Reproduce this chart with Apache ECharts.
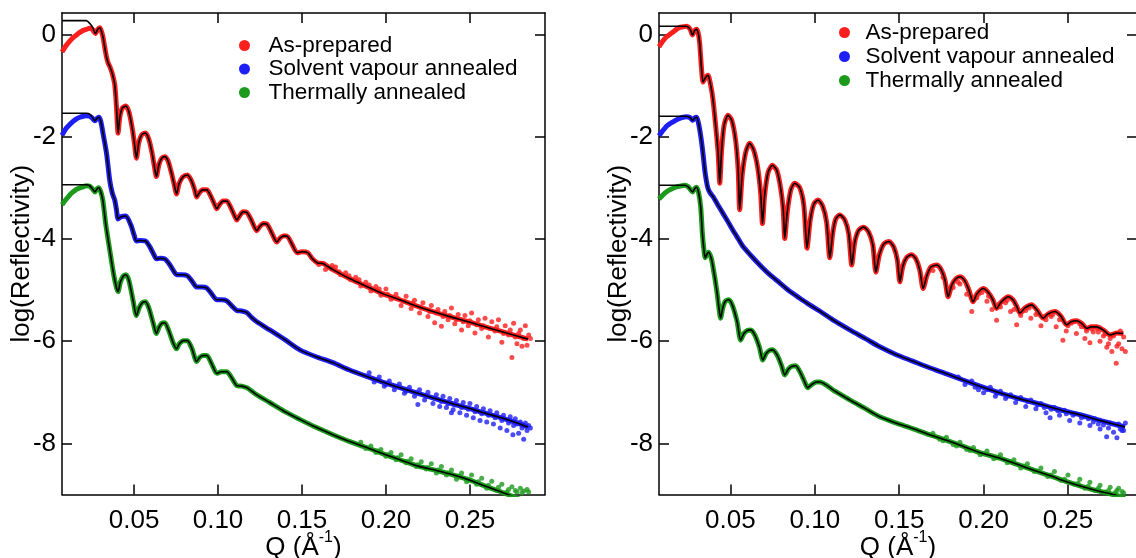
<!DOCTYPE html>
<html><head><meta charset="utf-8">
<script src="https://cdn.jsdelivr.net/npm/echarts@6/dist/echarts.min.js"></script>
<style>html,body{margin:0;padding:0;background:#fff}#c{width:1136px;height:558px}</style>
</head><body><div id="c"></div>
<script>
const seriesNames = ['As-prepared', 'Solvent vapour annealed', 'Thermally annealed'];
const xTicks = [0.05, 0.10, 0.15, 0.20, 0.25];
const yTicks = [0, -2, -4, -6, -8];
const yTitle = 'log(Reflectivity)';

// ---------- LEFT PANEL ----------
const L_red_fit = [[0.0071,0.27],[0.0215,0.27],[0.0238,0.21],[0.0255,0.13],[0.0270,0.02],[0.0284,0.10],[0.0296,0.13],[0.0306,0.06],[0.0315,-0.05],[0.0326,-0.26],[0.0336,-0.44],[0.0346,-0.56],[0.0356,-0.63],[0.0370,-0.76],[0.0385,-0.98],[0.0395,-1.40],[0.0405,-1.93],[0.0415,-1.62],[0.0430,-1.44],[0.0451,-1.40],[0.0470,-1.52],[0.0490,-1.85],[0.0503,-2.15],[0.0514,-2.42],[0.0528,-2.12],[0.0546,-1.96],[0.0568,-1.93],[0.0588,-2.05],[0.0606,-2.30],[0.0620,-2.56],[0.0633,-2.78],[0.0648,-2.55],[0.0665,-2.42],[0.0683,-2.39],[0.0702,-2.47],[0.0722,-2.70],[0.0740,-2.95],[0.0753,-3.12],[0.0768,-2.92],[0.0790,-2.79],[0.0818,-2.75],[0.0840,-2.85],[0.0860,-3.03],[0.0873,-3.18],[0.0888,-3.10],[0.0908,-3.04],[0.0933,-3.04],[0.0955,-3.15],[0.0980,-3.33],[0.0993,-3.41],[0.1008,-3.33],[0.1030,-3.26],[0.1052,-3.26],[0.1075,-3.38],[0.1100,-3.56],[0.1112,-3.63],[0.1128,-3.55],[0.1150,-3.47],[0.1171,-3.48],[0.1195,-3.61],[0.1220,-3.79],[0.1231,-3.84],[0.1248,-3.76],[0.1270,-3.70],[0.1291,-3.71],[0.1315,-3.85],[0.1340,-4.02],[0.1350,-4.06],[0.1370,-3.98],[0.1395,-3.94],[0.1416,-3.96],[0.1440,-4.10],[0.1472,-4.27],[0.1500,-4.25],[0.1535,-4.27],[0.1560,-4.38],[0.1593,-4.47],[0.1625,-4.48],[0.1654,-4.54],[0.1684,-4.60],[0.1780,-4.77],[0.1885,-4.93],[0.1980,-5.07],[0.2083,-5.19],[0.2180,-5.31],[0.2280,-5.42],[0.2380,-5.52],[0.2480,-5.61],[0.2580,-5.71],[0.2687,-5.81],[0.2780,-5.90],[0.2846,-5.96]];
const L_red_low = [[0.0071,-0.34],[0.0097,-0.21],[0.0117,-0.13],[0.0137,-0.06],[0.0157,-0.01],[0.0177,0.04],[0.0197,0.08],[0.0216,0.10],[0.0236,0.12],[0.0252,0.10],[0.0262,0.05],[0.0270,0.02],[0.0284,0.10],[0.0296,0.13]];
const L_red_noise = [[0.160,-4.50],[0.164,-4.60],[0.168,-4.52],[0.170,-4.55],[0.172,-4.64],[0.173,-4.70],[0.176,-4.66],[0.178,-4.72],[0.179,-4.80],[0.182,-4.75],[0.184,-4.80],[0.185,-4.92],[0.188,-4.85],[0.190,-4.90],[0.191,-5.02],[0.194,-4.93],[0.196,-4.98],[0.197,-5.10],[0.200,-4.98],[0.201,-5.08],[0.203,-5.18],[0.206,-5.08],[0.207,-5.16],[0.209,-5.30],[0.211,-5.22],[0.212,-5.12],[0.215,-5.36],[0.216,-5.25],[0.217,-5.20],[0.220,-5.45],[0.221,-5.35],[0.222,-5.25],[0.225,-5.52],[0.226,-5.42],[0.227,-5.30],[0.229,-5.64],[0.230,-5.45],[0.231,-5.38],[0.233,-5.71],[0.234,-5.52],[0.235,-5.42],[0.237,-5.58],[0.238,-5.50],[0.239,-5.35],[0.241,-5.66],[0.242,-5.58],[0.243,-5.48],[0.245,-5.78],[0.246,-5.62],[0.247,-5.50],[0.249,-5.70],[0.250,-5.60],[0.251,-5.45],[0.253,-5.84],[0.254,-5.68],[0.255,-5.58],[0.257,-5.75],[0.258,-5.70],[0.259,-5.55],[0.261,-5.92],[0.262,-5.75],[0.263,-5.62],[0.265,-5.80],[0.266,-5.72],[0.267,-5.58],[0.269,-6.02],[0.270,-5.85],[0.271,-5.70],[0.273,-5.88],[0.274,-5.78],[0.275,-6.32],[0.276,-5.65],[0.277,-5.92],[0.278,-6.05],[0.279,-5.85],[0.280,-5.78],[0.281,-6.10],[0.282,-5.95],[0.283,-5.70],[0.284,-6.08],[0.285,-5.88],[0.286,-5.95]];

const L_blue_fit = [[0.0071,-1.54],[0.0218,-1.54],[0.0236,-1.56],[0.0252,-1.62],[0.0267,-1.69],[0.0280,-1.64],[0.0290,-1.62],[0.0302,-1.70],[0.0315,-1.93],[0.0336,-2.32],[0.0355,-2.85],[0.0370,-3.10],[0.0385,-3.24],[0.0395,-3.42],[0.0405,-3.61],[0.0420,-3.57],[0.0451,-3.55],[0.0480,-3.72],[0.0500,-3.92],[0.0514,-4.04],[0.0535,-4.03],[0.0568,-4.04],[0.0595,-4.16],[0.0620,-4.32],[0.0633,-4.39],[0.0655,-4.38],[0.0683,-4.39],[0.0712,-4.50],[0.0740,-4.65],[0.0753,-4.70],[0.0785,-4.70],[0.0818,-4.72],[0.0848,-4.84],[0.0873,-4.94],[0.0903,-4.94],[0.0933,-4.96],[0.0963,-5.08],[0.0993,-5.19],[0.1022,-5.19],[0.1052,-5.21],[0.1082,-5.31],[0.1112,-5.40],[0.1141,-5.41],[0.1171,-5.44],[0.1201,-5.54],[0.1231,-5.62],[0.1308,-5.78],[0.1398,-5.97],[0.1487,-6.17],[0.1580,-6.30],[0.1684,-6.42],[0.1780,-6.56],[0.1885,-6.69],[0.1980,-6.80],[0.2083,-6.91],[0.2180,-7.01],[0.2280,-7.11],[0.2380,-7.21],[0.2480,-7.30],[0.2580,-7.40],[0.2687,-7.50],[0.2780,-7.60],[0.2846,-7.68]];
const L_blue_low = [[0.0071,-1.97],[0.0097,-1.83],[0.0117,-1.76],[0.0137,-1.70],[0.0157,-1.65],[0.0177,-1.62],[0.0197,-1.60],[0.0216,-1.59],[0.0236,-1.60],[0.0252,-1.64],[0.0267,-1.69],[0.0280,-1.64],[0.0290,-1.62]];
const L_blue_noise = [[0.190,-6.62],[0.193,-6.80],[0.196,-6.70],[0.199,-6.88],[0.200,-6.85],[0.202,-6.78],[0.205,-6.95],[0.206,-6.88],[0.208,-6.84],[0.211,-7.02],[0.212,-6.98],[0.214,-6.90],[0.217,-7.08],[0.218,-7.00],[0.219,-7.24],[0.220,-6.95],[0.223,-7.15],[0.224,-7.08],[0.225,-7.00],[0.228,-7.22],[0.229,-7.12],[0.230,-7.05],[0.232,-7.28],[0.233,-7.18],[0.234,-7.08],[0.236,-7.30],[0.237,-7.22],[0.238,-7.12],[0.239,-7.40],[0.240,-7.34],[0.241,-7.25],[0.242,-7.16],[0.244,-7.40],[0.245,-7.30],[0.246,-7.20],[0.248,-7.45],[0.249,-7.33],[0.250,-7.22],[0.252,-7.50],[0.253,-7.38],[0.254,-7.28],[0.256,-7.55],[0.257,-7.42],[0.258,-7.32],[0.260,-7.58],[0.261,-7.45],[0.262,-7.36],[0.264,-7.62],[0.265,-7.50],[0.266,-7.40],[0.268,-7.70],[0.269,-7.55],[0.270,-7.45],[0.272,-7.75],[0.273,-7.60],[0.274,-7.48],[0.2756,-7.83],[0.276,-7.65],[0.277,-7.52],[0.278,-7.62],[0.279,-7.80],[0.280,-7.58],[0.281,-7.70],[0.282,-7.92],[0.283,-7.60],[0.284,-7.75],[0.285,-7.65],[0.286,-7.70]];

const L_green_fit = [[0.0071,-2.94],[0.0218,-2.94],[0.0236,-2.96],[0.0252,-3.02],[0.0267,-3.08],[0.0280,-3.02],[0.0290,-3.00],[0.0302,-3.08],[0.0314,-3.24],[0.0332,-3.72],[0.0355,-4.21],[0.0379,-4.70],[0.0395,-4.95],[0.0405,-5.03],[0.0418,-4.85],[0.0435,-4.73],[0.0451,-4.70],[0.0470,-4.82],[0.0495,-5.22],[0.0514,-5.50],[0.0530,-5.35],[0.0548,-5.25],[0.0568,-5.23],[0.0588,-5.35],[0.0615,-5.66],[0.0633,-5.85],[0.0650,-5.72],[0.0665,-5.65],[0.0683,-5.64],[0.0705,-5.78],[0.0735,-6.05],[0.0753,-6.15],[0.0770,-6.05],[0.0795,-5.99],[0.0818,-5.99],[0.0845,-6.15],[0.0873,-6.40],[0.0890,-6.32],[0.0912,-6.28],[0.0933,-6.28],[0.0963,-6.45],[0.0993,-6.63],[0.1020,-6.60],[0.1052,-6.60],[0.1082,-6.72],[0.1112,-6.87],[0.1141,-6.88],[0.1171,-6.91],[0.1231,-7.05],[0.1308,-7.20],[0.1398,-7.38],[0.1487,-7.53],[0.1580,-7.68],[0.1684,-7.83],[0.1780,-7.96],[0.1885,-8.08],[0.1980,-8.20],[0.2083,-8.32],[0.2197,-8.45],[0.2300,-8.53],[0.2394,-8.61],[0.2500,-8.72],[0.2594,-8.84],[0.2726,-9.00],[0.2846,-9.16]];
const L_green_low = [[0.0071,-3.33],[0.0097,-3.22],[0.0117,-3.14],[0.0137,-3.08],[0.0157,-3.03],[0.0177,-3.00],[0.0197,-2.98],[0.0216,-2.96],[0.0236,-2.97],[0.0252,-3.02],[0.0267,-3.08],[0.0280,-3.02],[0.0290,-3.00]];
const L_green_noise = [[0.185,-7.98],[0.188,-8.10],[0.191,-8.05],[0.194,-8.18],[0.195,-8.15],[0.197,-8.12],[0.200,-8.25],[0.201,-8.22],[0.203,-8.18],[0.206,-8.32],[0.207,-8.28],[0.209,-8.22],[0.212,-8.38],[0.213,-8.35],[0.215,-8.30],[0.218,-8.45],[0.219,-8.42],[0.221,-8.36],[0.224,-8.50],[0.225,-8.47],[0.227,-8.40],[0.230,-8.58],[0.231,-8.52],[0.233,-8.45],[0.236,-8.62],[0.237,-8.58],[0.239,-8.52],[0.242,-8.70],[0.243,-8.64],[0.245,-8.58],[0.248,-8.75],[0.249,-8.70],[0.251,-8.62],[0.254,-8.80],[0.255,-8.75],[0.257,-8.68],[0.260,-8.88],[0.261,-8.82],[0.263,-8.74],[0.266,-8.92],[0.267,-8.86],[0.269,-8.80],[0.272,-8.95],[0.273,-8.90],[0.275,-8.85],[0.277,-8.92],[0.278,-8.95],[0.280,-8.88],[0.281,-8.97],[0.282,-8.93],[0.284,-8.90],[0.285,-8.95]];

// ---------- RIGHT PANEL ----------
const R_red_fit = [[0.0077,0.16],[0.0239,0.16],[0.0262,0.10],[0.0275,-0.01],[0.0287,0.07],[0.0298,0.10],[0.0309,0.03],[0.0318,-0.17],[0.0328,-0.63],[0.0338,-0.93],[0.0351,-0.85],[0.0367,-0.80],[0.0383,-0.99],[0.0397,-1.28],[0.0417,-1.93],[0.0428,-2.36],[0.0437,-2.91],[0.0448,-2.26],[0.0463,-1.77],[0.0486,-1.58],[0.0508,-1.68],[0.0531,-2.07],[0.0546,-2.65],[0.0555,-3.43],[0.0570,-2.75],[0.0591,-2.30],[0.0614,-2.13],[0.0638,-2.26],[0.0662,-2.61],[0.0680,-3.14],[0.0690,-3.70],[0.0703,-3.14],[0.0724,-2.69],[0.0749,-2.56],[0.0775,-2.66],[0.0798,-3.01],[0.0813,-3.43],[0.0822,-3.99],[0.0837,-3.47],[0.0858,-3.04],[0.0881,-2.91],[0.0911,-3.00],[0.0935,-3.34],[0.0954,-4.18],[0.0973,-3.63],[0.0994,-3.32],[0.1019,-3.24],[0.1047,-3.36],[0.1070,-3.67],[0.1089,-4.37],[0.1107,-3.87],[0.1124,-3.61],[0.1148,-3.53],[0.1178,-3.63],[0.1201,-3.90],[0.1219,-4.51],[0.1237,-4.06],[0.1260,-3.83],[0.1290,-3.77],[0.1320,-3.87],[0.1344,-4.12],[0.1362,-4.65],[0.1382,-4.32],[0.1409,-4.10],[0.1440,-4.05],[0.1468,-4.16],[0.1489,-4.41],[0.1504,-4.84],[0.1522,-4.53],[0.1545,-4.36],[0.1573,-4.31],[0.1599,-4.39],[0.1622,-4.61],[0.1642,-4.97],[0.1664,-4.72],[0.1688,-4.55],[0.1721,-4.51],[0.1747,-4.59],[0.1771,-4.80],[0.1790,-5.13],[0.1812,-4.90],[0.1836,-4.78],[0.1860,-4.74],[0.1889,-4.82],[0.1913,-5.00],[0.1938,-5.23],[0.1960,-5.08],[0.1998,-4.97],[0.2026,-5.04],[0.2055,-5.19],[0.2077,-5.36],[0.2103,-5.24],[0.2146,-5.13],[0.2174,-5.19],[0.2198,-5.33],[0.2215,-5.45],[0.2245,-5.35],[0.2285,-5.29],[0.2316,-5.39],[0.2354,-5.55],[0.2381,-5.47],[0.2423,-5.42],[0.2458,-5.51],[0.2492,-5.68],[0.2518,-5.62],[0.2552,-5.60],[0.2584,-5.66],[0.2611,-5.75],[0.2637,-5.72],[0.2670,-5.72],[0.2708,-5.78],[0.2749,-5.88],[0.2791,-5.84],[0.2828,-5.85]];
const R_red_low = [[0.0077,-0.24],[0.0100,-0.13],[0.0120,-0.05],[0.0140,0.00],[0.0160,0.05],[0.0180,0.10],[0.0199,0.14],[0.0220,0.15],[0.0239,0.16],[0.0262,0.10],[0.0275,-0.01],[0.0287,0.07],[0.0298,0.10]];
const R_red_noise = [[0.170,-4.62],[0.176,-4.75],[0.182,-4.95],[0.185,-4.85],[0.186,-4.88],[0.190,-5.08],[0.191,-4.98],[0.193,-5.42],[0.196,-5.15],[0.197,-5.08],[0.199,-5.05],[0.202,-5.22],[0.203,-5.12],[0.205,-5.38],[0.2077,-5.59],[0.209,-5.28],[0.210,-5.33],[0.213,-5.25],[0.214,-5.20],[0.216,-5.42],[0.218,-5.38],[0.2196,-5.68],[0.222,-5.50],[0.223,-5.42],[0.225,-5.40],[0.227,-5.35],[0.228,-5.55],[0.231,-5.48],[0.232,-5.44],[0.234,-5.70],[0.236,-5.52],[0.237,-5.58],[0.240,-5.52],[0.241,-5.48],[0.243,-5.72],[0.245,-5.58],[0.247,-5.98],[0.249,-5.80],[0.250,-5.70],[0.252,-5.65],[0.254,-5.62],[0.255,-5.85],[0.257,-5.66],[0.258,-5.72],[0.260,-5.95],[0.261,-5.80],[0.263,-6.03],[0.264,-5.76],[0.265,-5.82],[0.267,-5.75],[0.268,-5.82],[0.269,-6.00],[0.271,-5.90],[0.272,-5.86],[0.273,-6.12],[0.274,-6.05],[0.275,-5.95],[0.276,-6.20],[0.277,-5.90],[0.2786,-6.43],[0.279,-6.10],[0.280,-6.05],[0.281,-5.80],[0.282,-6.15],[0.283,-5.92],[0.284,-6.20]];

const R_blue_fit = [[0.0077,-1.60],[0.0239,-1.60],[0.0262,-1.63],[0.0276,-1.68],[0.0290,-1.63],[0.0300,-1.62],[0.0312,-1.75],[0.0328,-2.07],[0.0340,-2.40],[0.0348,-2.65],[0.0358,-2.87],[0.0367,-3.01],[0.0380,-3.10],[0.0397,-3.17],[0.0425,-3.33],[0.0456,-3.50],[0.0485,-3.66],[0.0515,-3.83],[0.0545,-3.99],[0.0575,-4.15],[0.0620,-4.32],[0.0674,-4.51],[0.0730,-4.69],[0.0792,-4.86],[0.0850,-5.02],[0.0911,-5.16],[0.0970,-5.29],[0.1029,-5.41],[0.1120,-5.61],[0.1207,-5.78],[0.1300,-5.95],[0.1385,-6.11],[0.1480,-6.26],[0.1580,-6.39],[0.1680,-6.52],[0.1781,-6.64],[0.1878,-6.76],[0.1978,-6.88],[0.2076,-6.99],[0.2174,-7.09],[0.2274,-7.18],[0.2374,-7.27],[0.2471,-7.36],[0.2571,-7.44],[0.2700,-7.56],[0.2838,-7.68]];
const R_blue_low = [[0.0077,-1.98],[0.0100,-1.88],[0.0120,-1.80],[0.0140,-1.75],[0.0160,-1.71],[0.0180,-1.67],[0.0199,-1.64],[0.0220,-1.62],[0.0239,-1.61],[0.0262,-1.63],[0.0276,-1.68],[0.0290,-1.63],[0.0300,-1.62]];
const R_blue_noise = [[0.185,-6.70],[0.189,-6.85],[0.193,-6.78],[0.195,-6.90],[0.197,-6.95],[0.200,-7.01],[0.202,-6.95],[0.204,-6.90],[0.207,-7.08],[0.208,-7.02],[0.210,-6.98],[0.213,-7.12],[0.214,-7.08],[0.216,-7.05],[0.219,-7.20],[0.220,-7.12],[0.222,-7.10],[0.225,-7.28],[0.226,-7.18],[0.228,-7.15],[0.231,-7.32],[0.232,-7.25],[0.234,-7.22],[0.236,-7.30],[0.237,-7.40],[0.2394,-7.50],[0.240,-7.33],[0.242,-7.30],[0.244,-7.36],[0.245,-7.45],[0.248,-7.35],[0.249,-7.42],[0.251,-7.55],[0.253,-7.45],[0.254,-7.42],[0.257,-7.60],[0.258,-7.50],[0.260,-7.48],[0.262,-7.52],[0.263,-7.65],[0.265,-7.58],[0.266,-7.52],[0.268,-7.62],[0.269,-7.72],[0.271,-7.64],[0.2729,-7.87],[0.274,-7.70],[0.275,-7.60],[0.277,-7.78],[0.279,-7.89],[0.280,-7.62],[0.281,-7.72],[0.282,-7.75],[0.283,-7.75],[0.284,-7.60]];

const R_green_fit = [[0.0077,-2.95],[0.0229,-2.95],[0.0250,-2.98],[0.0276,-3.08],[0.0290,-3.01],[0.0300,-2.99],[0.0312,-3.10],[0.0324,-3.37],[0.0334,-3.89],[0.0342,-4.18],[0.0351,-4.37],[0.0361,-4.30],[0.0371,-4.26],[0.0385,-4.36],[0.0395,-4.51],[0.0419,-5.00],[0.0432,-5.35],[0.0442,-5.55],[0.0455,-5.35],[0.0470,-5.22],[0.0490,-5.19],[0.0512,-5.30],[0.0540,-5.62],[0.0561,-5.98],[0.0580,-5.85],[0.0600,-5.79],[0.0620,-5.78],[0.0645,-5.88],[0.0672,-6.12],[0.0692,-6.37],[0.0712,-6.24],[0.0732,-6.18],[0.0751,-6.17],[0.0778,-6.28],[0.0803,-6.48],[0.0822,-6.66],[0.0845,-6.54],[0.0865,-6.49],[0.0887,-6.48],[0.0912,-6.60],[0.0938,-6.78],[0.0958,-6.91],[0.0985,-6.84],[0.1010,-6.80],[0.1029,-6.80],[0.1120,-6.98],[0.1207,-7.15],[0.1300,-7.32],[0.1385,-7.48],[0.1480,-7.60],[0.1580,-7.71],[0.1680,-7.83],[0.1781,-7.94],[0.1880,-8.06],[0.1978,-8.18],[0.2097,-8.29],[0.2200,-8.41],[0.2293,-8.52],[0.2400,-8.64],[0.2492,-8.75],[0.2600,-8.86],[0.2690,-8.94],[0.2767,-9.00],[0.2838,-9.07]];
const R_green_low = [[0.0077,-3.22],[0.0100,-3.14],[0.0120,-3.08],[0.0140,-3.04],[0.0160,-3.01],[0.0180,-2.98],[0.0199,-2.97],[0.0229,-2.95],[0.0250,-2.98],[0.0276,-3.08],[0.0290,-3.01],[0.0300,-2.99]];
const R_green_noise = [[0.170,-7.80],[0.174,-7.92],[0.176,-7.95],[0.178,-7.88],[0.182,-8.02],[0.184,-8.05],[0.186,-7.98],[0.190,-8.12],[0.192,-8.14],[0.194,-8.08],[0.198,-8.22],[0.200,-8.20],[0.202,-8.15],[0.206,-8.30],[0.208,-8.28],[0.210,-8.22],[0.214,-8.38],[0.216,-8.36],[0.218,-8.32],[0.222,-8.48],[0.224,-8.44],[0.226,-8.40],[0.230,-8.55],[0.232,-8.54],[0.234,-8.48],[0.238,-8.65],[0.240,-8.62],[0.242,-8.55],[0.246,-8.72],[0.248,-8.70],[0.250,-8.62],[0.254,-8.80],[0.256,-8.78],[0.257,-8.70],[0.260,-8.88],[0.262,-8.84],[0.263,-8.76],[0.266,-8.92],[0.268,-8.88],[0.269,-8.82],[0.272,-8.95],[0.274,-8.92],[0.275,-8.86],[0.278,-8.96],[0.279,-8.92],[0.280,-8.88],[0.282,-8.94],[0.283,-8.97]];

// ---------- styling ----------
const COLORS = ['#fb1e1e', '#1e1ef6', '#1b9a1b'];
const FONT = 'Liberation Sans, Arial, Helvetica, sans-serif';
const panels = [
  {grid: {left: 62, top: 13, width: 483, height: 481.5, outerBoundsMode: 'none', containLabel: false}, xmin: 0.0071, xmax: 0.2947,
   fits: [L_red_fit, L_blue_fit, L_green_fit], lows: [L_red_low, L_blue_low, L_green_low], noise: [L_red_noise, L_blue_noise, L_green_noise]},
  {grid: {left: 659, top: 13, width: 478, height: 481.5, outerBoundsMode: 'none', containLabel: false}, xmin: 0.0077, xmax: 0.2909,
   fits: [R_red_fit, R_blue_fit, R_green_fit], lows: [R_red_low, R_blue_low, R_green_low], noise: [R_red_noise, R_blue_noise, R_green_noise]}
];
const YMIN = -9, YMAX = 0.42;

const grids = [], xAxes = [], yAxes = [], series = [];
const axisLine = {show: true, onZero: false, lineStyle: {color: '#000', width: 1.5}};
panels.forEach((p, gi) => {
  grids.push(p.grid);
  xAxes.push({type: 'value', gridIndex: gi, position: 'bottom', min: p.xmin, max: p.xmax,
    axisLine, splitLine: {show: false},
    axisTick: {show: true, inside: true, length: 10, lineStyle: {color: '#000', width: 1.5}, customValues: xTicks},
    axisLabel: {show: true, customValues: xTicks, formatter: v => v.toFixed(2), fontSize: 26, color: '#000', fontFamily: FONT, margin: 13},
    name: '{a|Q (Å}{b|-1}{a|)}', nameLocation: 'middle', nameGap: 35, nameMoveOverlap: false,
    nameTextStyle: {fontFamily: FONT, color: '#000', rich: {a: {fontSize: 26, fontFamily: FONT, color: '#000', lineHeight: 36}, b: {fontSize: 16, fontFamily: FONT, color: '#000', lineHeight: 16, verticalAlign: 'top'}}}
  });
  xAxes.push({type: 'value', gridIndex: gi, position: 'top', min: p.xmin, max: p.xmax,
    axisLine, splitLine: {show: false}, axisLabel: {show: false},
    axisTick: {show: true, inside: true, length: 10, lineStyle: {color: '#000', width: 1.5}, customValues: xTicks}
  });
  yAxes.push({type: 'value', gridIndex: gi, position: 'left', min: YMIN, max: YMAX,
    axisLine, splitLine: {show: false},
    axisTick: {show: true, inside: true, length: 10, lineStyle: {color: '#000', width: 1.5}, customValues: yTicks},
    axisLabel: {show: true, customValues: yTicks, formatter: v => String(v), fontSize: 26, color: '#000', fontFamily: FONT, margin: 6},
    name: yTitle, nameLocation: 'middle', nameGap: 27, nameRotate: 90, nameMoveOverlap: false,
    nameTextStyle: {fontSize: 26, fontFamily: FONT, color: '#000'}
  });
  yAxes.push({type: 'value', gridIndex: gi, position: 'right', min: YMIN, max: YMAX,
    axisLine, splitLine: {show: false}, axisLabel: {show: false},
    axisTick: {show: true, inside: true, length: 10, lineStyle: {color: '#000', width: 1.5}, customValues: yTicks}
  });
  const xi = gi * 2, yi = gi * 2;
  for (let k = 0; k < 3; k++) {
    const low = p.lows[k];
    const lastQ = low[low.length - 1][0];
    const band = low.concat(p.fits[k].filter(pt => pt[0] > lastQ));
    series.push({type: 'line', name: seriesNames[k], xAxisIndex: xi, yAxisIndex: yi, data: band,
      showSymbol: false, smooth: 0.25, color: COLORS[k], lineStyle: {color: COLORS[k], width: 5}, z: 2, silent: true, clip: true});
    series.push({type: 'scatter', name: seriesNames[k], xAxisIndex: xi, yAxisIndex: yi, data: p.noise[k],
      symbol: 'circle', symbolSize: 5, color: COLORS[k], itemStyle: {color: COLORS[k]}, z: 3, silent: true, clip: true});
  }
  for (let k = 0; k < 3; k++) {
    series.push({type: 'line', name: 'fit' + gi + k, xAxisIndex: xi, yAxisIndex: yi, data: p.fits[k],
      showSymbol: false, smooth: 0.25, lineStyle: {color: '#000', width: 1.6}, color: '#000', z: 4, silent: true, clip: true});
  }
});

const legendBase = {orient: 'vertical', icon: 'circle', itemHeight: 11, selectedMode: false,
  textStyle: {fontSize: 22.5, fontFamily: FONT, color: '#000', lineHeight: 22}, data: seriesNames};
const option = {
  animation: false,
  backgroundColor: '#fff',
  grid: grids, xAxis: xAxes, yAxis: yAxes, series,
  legend: [
    Object.assign({}, legendBase, {left: 234, top: 29, itemWidth: 38, itemGap: 0.5}),
    Object.assign({}, legendBase, {left: 834, top: 16, itemWidth: 32, itemGap: 1})
  ]
};
const chart = echarts.init(document.getElementById('c'), null, {renderer: 'canvas'});
chart.setOption(option);
</script>
</body></html>
